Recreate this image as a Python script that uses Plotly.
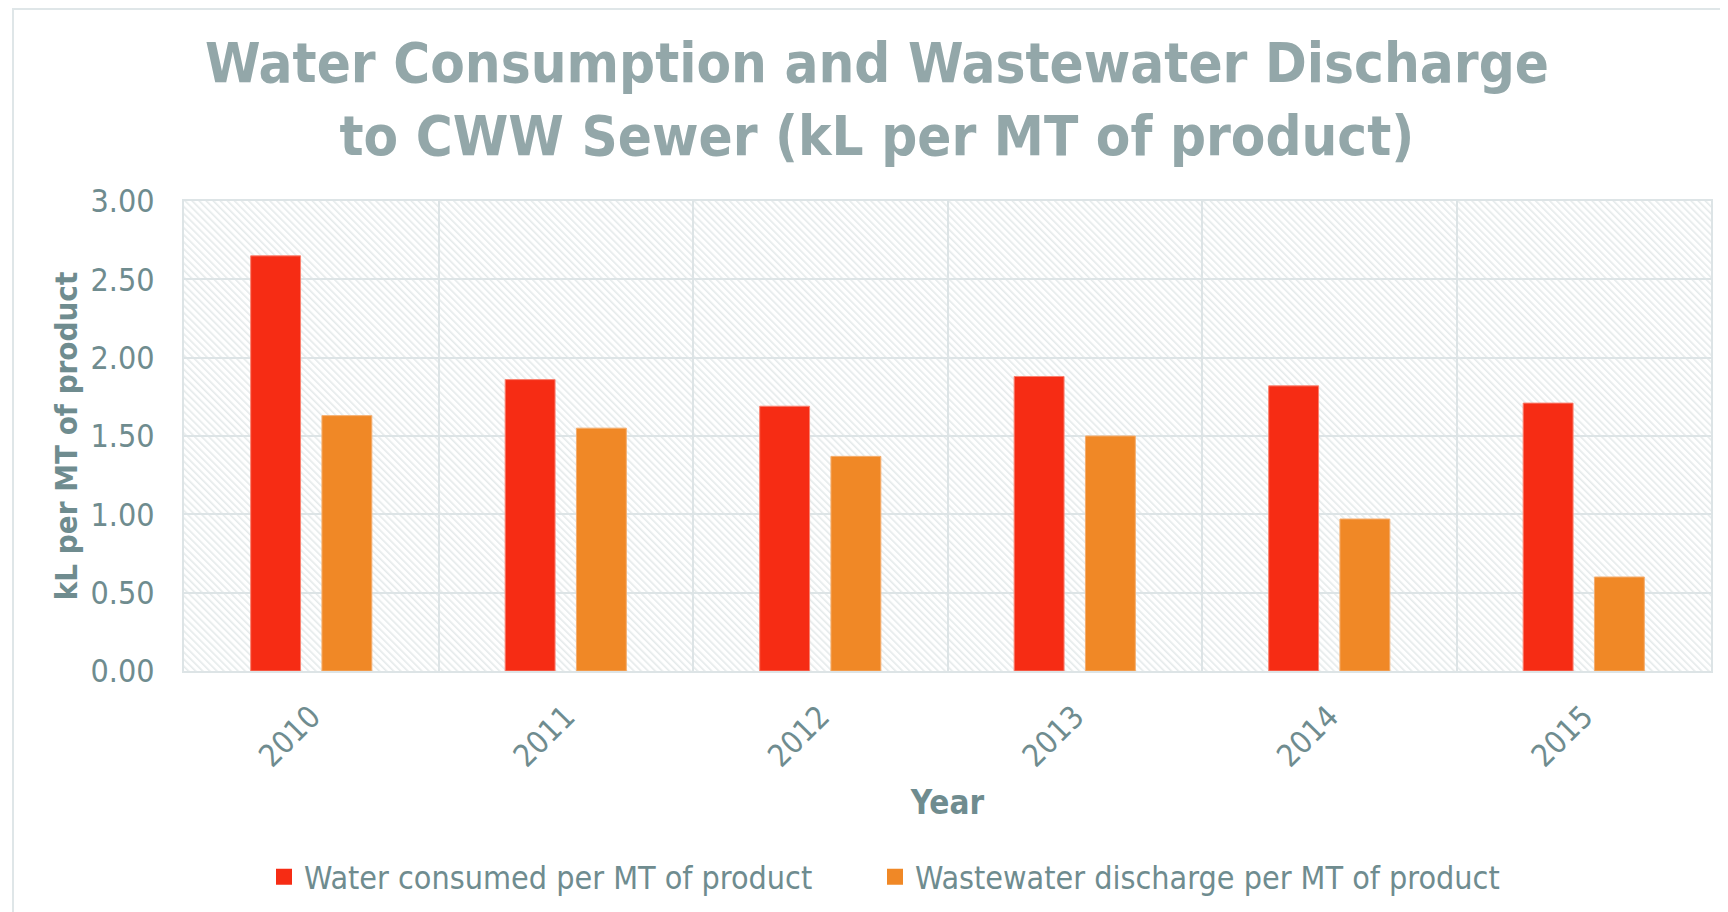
import base64
import plotly.graph_objects as go

# ---- data ----
years = ["2010", "2011", "2012", "2013", "2014", "2015"]
water_consumed = [2.65, 1.86, 1.69, 1.88, 1.82, 1.71]
wastewater_discharge = [1.63, 1.55, 1.37, 1.50, 0.97, 0.60]
series_names = ["Water consumed per MT of product", "Wastewater discharge per MT of product"]
y_ticks = [0.0, 0.5, 1.0, 1.5, 2.0, 2.5, 3.0]

title_text = "Water Consumption and Wastewater Discharge<br>to CWW Sewer (kL per MT of product)"

FONT = "DejaVu Sans Condensed, DejaVu Sans, sans-serif"
TICK_COL = "#6f8c8f"
TITLE_COL = "#93a7a9"
GRID_COL = "#dde4e6"
RED = "#f62c14"
ORANGE = "#f08826"

# page has an 8px body margin; figure sized to fit in the window
OFF = 8
W, H = 1720, 904
L, R, T, B = 176, 17, 193, 241
PW, PH = W - L - R, H - T - B


def px2x(px):
    """page x pixel -> paper x"""
    return (px - OFF - L) / PW


def py2y(py):
    """page y pixel -> paper y"""
    return (H - B - (py - OFF)) / PH


# hatch background for plot area (decoration)
svg = (
    f'<svg xmlns="http://www.w3.org/2000/svg" width="{PW}" height="{PH}">'
    '<defs><pattern id="p" width="5" height="5" patternUnits="userSpaceOnUse" '
    'patternTransform="rotate(-45)"><rect x="0" y="0" width="5" height="5" fill="#ffffff"/>'
    '<rect x="0" y="0" width="1.6" height="5" fill="#e5eaeb"/></pattern></defs>'
    f'<rect width="{PW}" height="{PH}" fill="url(#p)"/></svg>'
)
svg_uri = "data:image/svg+xml;base64," + base64.b64encode(svg.encode()).decode()

fig = go.Figure()
fig.add_trace(go.Bar(
    x=years, y=water_consumed, name=series_names[0], showlegend=False,
    marker=dict(color=RED, line=dict(color="#f9806f", width=1)),
))
fig.add_trace(go.Bar(
    x=years, y=wastewater_discharge, name=series_names[1], showlegend=False,
    marker=dict(color=ORANGE, line=dict(color="#f4ad6e", width=1)),
))
# legend entries with larger square swatches (no drawn marks)
for name, col, lg in zip(series_names, [RED, ORANGE], ["legend", "legend2"]):
    fig.add_trace(go.Scatter(
        x=[None], y=[None], mode="markers", name=name, legend=lg,
        marker=dict(symbol="square", size=18, color=col),
    ))

legend_common = dict(
    orientation="h",
    y=py2y(877), yanchor="middle",
    font=dict(size=32, color=TICK_COL),
    itemwidth=30,
    bgcolor="rgba(0,0,0,0)",
    xanchor="left",
)

fig.update_layout(
    width=W, height=H,
    margin=dict(l=L, r=R, t=T, b=B, autoexpand=False),
    paper_bgcolor="white",
    plot_bgcolor="rgba(0,0,0,0)",
    font=dict(family=FONT, color=TICK_COL),
    barmode="group", bargap=0.44, bargroupgap=0.3,
    xaxis=dict(
        type="category",
        tickson="boundaries",
        showgrid=True, gridcolor=GRID_COL, gridwidth=2,
        showline=True, linecolor=GRID_COL, linewidth=2, mirror=True,
        ticks="", tickangle=-45,
        tickfont=dict(size=31, color=TICK_COL),
        ticklabelstandoff=13,
        title=dict(text="<b>Year</b>", font=dict(size=33, color=TICK_COL), standoff=18),
    ),
    yaxis=dict(
        range=[0, 3], tickvals=y_ticks, tickformat=".2f",
        showgrid=True, gridcolor=GRID_COL, gridwidth=2,
        showline=True, linecolor=GRID_COL, linewidth=2, mirror=True,
        zeroline=False, ticks="",
        tickfont=dict(size=32, color=TICK_COL),
        ticklabelstandoff=21,
        title=dict(text="<b>kL per MT of product</b>", font=dict(size=31, color=TICK_COL), standoff=4),
    ),
    legend=dict(x=px2x(264), **legend_common),
    legend2=dict(x=px2x(875), **legend_common),
    annotations=[dict(
        text=f"<b>{title_text}</b>", showarrow=False,
        xref="paper", yref="paper",
        x=px2x(877), xanchor="center",
        y=py2y(28), yanchor="top",
        align="center",
        font=dict(family=FONT, size=56, color=TITLE_COL),
    )],
    images=[dict(
        source=svg_uri, xref="paper", yref="paper",
        x=0, y=1, sizex=1, sizey=1, xanchor="left", yanchor="top",
        sizing="stretch", layer="below",
    )],
    shapes=[dict(
        type="rect", xref="paper", yref="paper",
        x0=px2x(13), x1=px2x(1760), y0=py2y(960), y1=py2y(9),
        line=dict(color="#dfe6e8", width=2), layer="below",
    )],
)

fig.write_html("out.html")
